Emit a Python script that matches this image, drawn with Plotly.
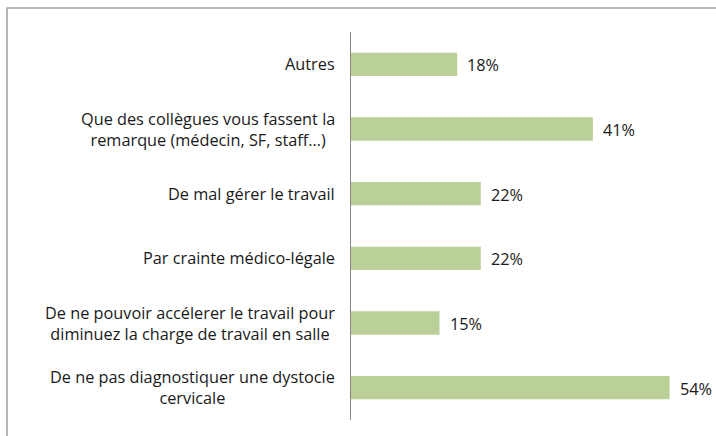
import plotly.graph_objects as go

categories = [
    "De ne pas diagnostiquer une dystocie<br>cervicale",
    "De ne pouvoir accélerer le travail pour<br>diminuez la charge de travail en salle",
    "Par crainte médico-légale",
    "De mal gérer le travail",
    "Que des collègues vous fassent la<br>remarque (médecin, SF, staff…)",
    "Autres",
]
values = [0.54, 0.15, 0.22, 0.22, 0.41, 0.18]
value_labels = ["54%", "15%", "22%", "22%", "41%", "18%"]

FONT = "Open Sans"
FS = 16.3
fig = go.Figure(go.Bar(
    x=values, y=list(range(len(categories))), orientation="h",
    marker=dict(color="#bbd098", line=dict(width=0)),
    cliponaxis=False, width=0.36, hoverinfo="skip",
))

for i, c in enumerate(categories):
    fig.add_annotation(x=0, xref="paper", y=i, yref="y", text=c, showarrow=False,
                       xanchor="right", xshift=-14, align="center",
                       font=dict(family=FONT, size=FS, color="#1a1a1a"))
for i, (v, t) in enumerate(zip(values, value_labels)):
    fig.add_annotation(x=v, xref="x", y=i, yref="y", text=t, showarrow=False,
                       xanchor="left", xshift=8, yshift=-1,
                       font=dict(family=FONT, size=FS, color="#1a1a1a"))

# outer frame
fig.add_shape(type="rect", xref="paper", yref="paper",
              x0=-344/354, x1=1.3, y0=-0.3, y1=412/388,
              line=dict(color="#a0a0a0", width=1.5), fillcolor="rgba(0,0,0,0)")

fig.update_layout(
    width=716, height=436, margin=dict(l=351, r=11, t=32, b=16, autoexpand=False),
    paper_bgcolor="white", plot_bgcolor="white", showlegend=False,
    font=dict(family=FONT, size=FS, color="#1a1a1a"),
    xaxis=dict(range=[0, 0.60], visible=False, fixedrange=True),
    yaxis=dict(range=[-0.5, 5.5], showticklabels=False, showgrid=False, zeroline=False,
               showline=True, linecolor="#868686", linewidth=1, ticks=""),
)
fig.write_html("out.html", config={"displayModeBar": False},
               post_script="document.body.style.margin='0';document.body.style.overflow='hidden';")
